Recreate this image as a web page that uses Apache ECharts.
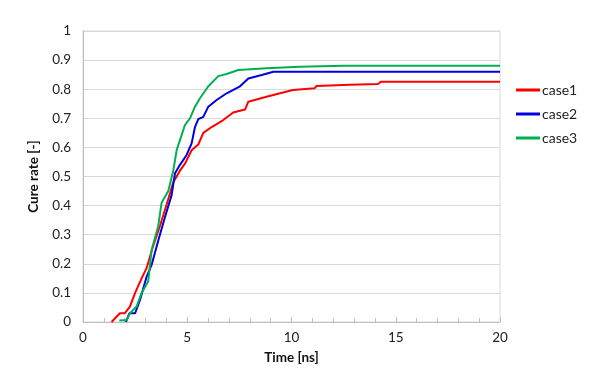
<!DOCTYPE html>
<html><head><meta charset="utf-8">
<script src="https://cdn.jsdelivr.net/npm/echarts@6/dist/echarts.min.js"></script>
<style>html,body{margin:0;padding:0;background:#fff}#c{width:600px;height:380px}</style>
</head><body><div id="c"></div>
<script>
var seriesNames = ['case1', 'case2', 'case3'];
var case1Time = [1.37, 1.77, 2.0, 2.25, 2.5, 2.81, 3.05, 3.36, 3.69, 4.08, 4.33, 4.65, 4.9, 5.21, 5.53, 5.77, 6.17, 6.65, 7.2, 7.77, 7.93, 8.8, 9.45, 10.07, 11.1, 11.2, 12.8, 14.15, 14.3, 20];
var case1Rate = [0.0, 0.03, 0.03, 0.053, 0.1, 0.15, 0.185, 0.26, 0.33, 0.42, 0.48, 0.52, 0.545, 0.59, 0.61, 0.65, 0.67, 0.69, 0.72, 0.73, 0.757, 0.774, 0.786, 0.797, 0.803, 0.811, 0.815, 0.818, 0.826, 0.826];
var case2Time = [2.06, 2.22, 2.5, 2.73, 3.05, 3.29, 3.61, 3.93, 4.25, 4.41, 4.65, 4.97, 5.21, 5.37, 5.53, 5.77, 6.01, 6.41, 6.89, 7.53, 7.93, 8.57, 9.13, 20];
var case2Rate = [0.0, 0.03, 0.03, 0.075, 0.155, 0.196, 0.28, 0.36, 0.436, 0.51, 0.54, 0.574, 0.614, 0.67, 0.697, 0.705, 0.74, 0.763, 0.786, 0.81, 0.837, 0.849, 0.86, 0.86];
var case3Time = [1.74, 2.1, 2.25, 2.57, 2.81, 3.13, 3.29, 3.61, 3.77, 4.09, 4.33, 4.49, 4.65, 4.89, 5.13, 5.37, 5.61, 6.01, 6.49, 6.89, 7.45, 8.8, 10.4, 12.5, 20];
var case3Rate = [0.005, 0.007, 0.03, 0.053, 0.1, 0.14, 0.247, 0.33, 0.41, 0.45, 0.52, 0.59, 0.625, 0.677, 0.7, 0.74, 0.769, 0.81, 0.845, 0.852, 0.866, 0.872, 0.877, 0.881, 0.881];
var colors = ['#ff0000', '#0000dd', '#00b050'];

function pairs(t, v) { return t.map(function (x, i) { return [x, v[i]]; }); }
var font = 'Lato, "Open Sans", sans-serif';
var chart = echarts.init(document.getElementById('c'), null, {renderer: 'canvas'});
chart.setOption({
  animation: false,
  color: colors,
  textStyle: {fontFamily: font},
  grid: {left: 83, right: 100, top: 31, bottom: 58, show: true, borderColor: '#d9d9d9', borderWidth: 1},
  legend: {
    orient: 'vertical', left: 511, top: 78, itemGap: 10, itemWidth: 24, itemHeight: 3,
    icon: 'rect', data: seriesNames,
    textStyle: {fontFamily: font, fontSize: 14, color: '#222', padding: [0, 0, 0, -3]}
  },
  xAxis: {
    type: 'value', min: 0, max: 20, interval: 5,
    name: 'Time [ns]', nameLocation: 'middle', nameGap: 29,
    nameTextStyle: {fontFamily: font, fontWeight: 'bold', fontSize: 13.5, color: '#111'},
    axisLine: {lineStyle: {color: '#bfbfbf'}},
    axisTick: {show: true, inside: true, length: 5, lineStyle: {color: '#bfbfbf'}},
    minorTick: {show: true, splitNumber: 5, length: 4, lineStyle: {color: '#bfbfbf'}},
    axisLabel: {fontFamily: font, fontSize: 13.5, color: '#222', margin: 9},
    splitLine: {show: false}
  },
  yAxis: {
    type: 'value', min: 0, max: 1, interval: 0.1,
    name: 'Cure rate [-]', nameLocation: 'middle', nameGap: 42, nameRotate: 90,
    nameTextStyle: {fontFamily: font, fontWeight: 'bold', fontSize: 13.5, color: '#111'},
    axisLine: {show: true, lineStyle: {color: '#bfbfbf'}},
    axisTick: {show: false},
    axisLabel: {fontFamily: font, fontSize: 13.5, color: '#222', margin: 12,
      formatter: function (v) { return String(Math.round(v * 10) / 10); }},
    splitLine: {show: true, lineStyle: {color: '#d9d9d9', width: 1}}
  },
  series: [
    {name: seriesNames[0], type: 'line', showSymbol: false, data: pairs(case1Time, case1Rate), lineStyle: {width: 2}},
    {name: seriesNames[1], type: 'line', showSymbol: false, data: pairs(case2Time, case2Rate), lineStyle: {width: 2}},
    {name: seriesNames[2], type: 'line', showSymbol: false, data: pairs(case3Time, case3Rate), lineStyle: {width: 2}}
  ]
});
</script></body></html>
